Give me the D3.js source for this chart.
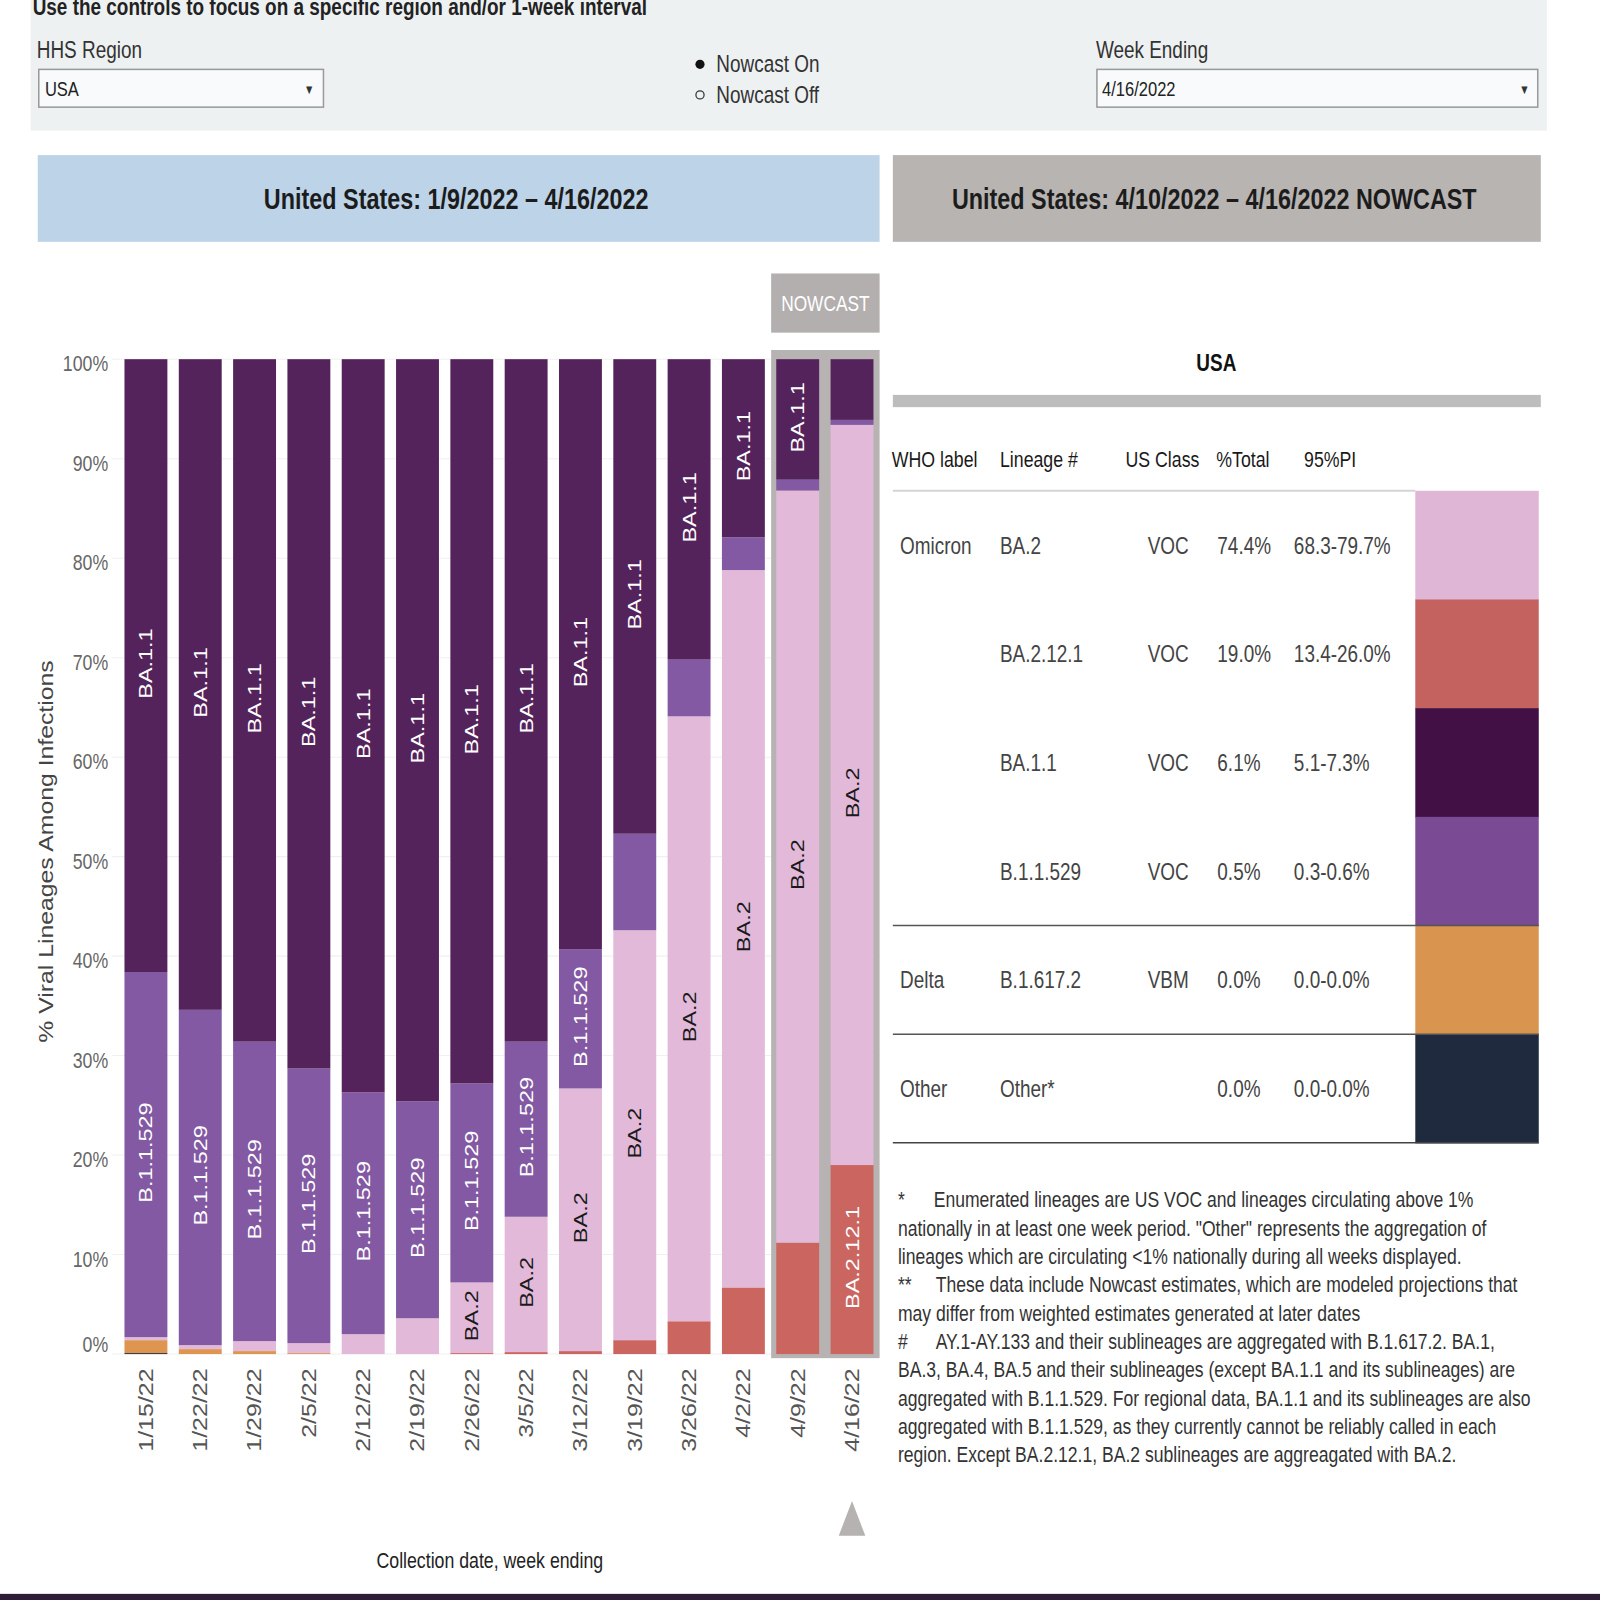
<!DOCTYPE html>
<html>
<head>
<meta charset="utf-8">
<script src="https://cdn.jsdelivr.net/npm/d3@7"></script>
<style>
  body { margin: 0; background: #fff; }
  text { font-family: "Liberation Sans", Arial, sans-serif; }
</style>
</head>
<body>
<div id="renderer"></div>
<script>
// weekly proportions (%)
const weeks = ["1/15/22", "1/22/22", "1/29/22", "2/5/22", "2/12/22", "2/19/22", "2/26/22",
               "3/5/22", "3/12/22", "3/19/22", "3/26/22", "4/2/22", "4/9/22", "4/16/22"];
const other   = [0.1, 0, 0, 0, 0, 0, 0, 0, 0, 0, 0, 0, 0, 0];
const delta   = [1.3, 0.5, 0.3, 0.1, 0, 0, 0, 0, 0, 0, 0, 0, 0, 0];
const ba2121  = [0, 0, 0, 0, 0, 0, 0.1, 0.2, 0.3, 1.4, 3.3, 6.7, 11.2, 19.0];
const ba2     = [0.3, 0.4, 1.0, 1.0, 2.0, 3.6, 7.1, 13.6, 26.4, 41.2, 60.8, 72.1, 75.6, 74.4];
const b11529  = [36.7, 33.7, 30.1, 27.6, 24.3, 21.8, 20.0, 17.6, 14.0, 9.7, 5.7, 3.3, 1.1, 0.5];
const ba11    = [61.6, 65.4, 68.6, 71.3, 73.7, 74.6, 72.8, 68.6, 59.3, 47.7, 30.2, 17.9, 12.1, 6.1];
const nowcastWeeks = ["4/9/22", "4/16/22"];
const yTicks = [0, 10, 20, 30, 40, 50, 60, 70, 80, 90, 100];

// nowcast table
const tableWho     = ["Omicron", "", "", "", "Delta", "Other"];
const tableLineage = ["BA.2", "BA.2.12.1", "BA.1.1", "B.1.1.529", "B.1.617.2", "Other*"];
const tableClass   = ["VOC", "VOC", "VOC", "VOC", "VBM", ""];
const tableTotal   = ["74.4%", "19.0%", "6.1%", "0.5%", "0.0%", "0.0%"];
const tablePI      = ["68.3-79.7%", "13.4-26.0%", "5.1-7.3%", "0.3-0.6%", "0.0-0.0%", "0.0-0.0%"];

const notes = [
  ["*", "Enumerated lineages are US VOC and lineages circulating above 1%"],
  ["", "nationally in at least one week period. \"Other\" represents the aggregation of"],
  ["", "lineages which are circulating <1% nationally during all weeks displayed."],
  ["**", "These data include Nowcast estimates, which are modeled projections that"],
  ["", "may differ from weighted estimates generated at later dates"],
  ["#", "AY.1-AY.133 and their sublineages are aggregated with B.1.617.2. BA.1,"],
  ["", "BA.3, BA.4, BA.5 and their sublineages (except BA.1.1 and its sublineages) are"],
  ["", "aggregated with B.1.1.529. For regional data, BA.1.1 and its sublineages are also"],
  ["", "aggregated with B.1.1.529, as they currently cannot be reliably called in each"],
  ["", "region. Except BA.2.12.1, BA.2 sublineages are aggreagated with BA.2."]
];

// colours
const barColor = {
  "Other": "#1f2a40", "B.1.617.2": "#dd9550", "BA.2.12.1": "#cb6560",
  "BA.2": "#e2b9d9", "B.1.1.529": "#8259a2", "BA.1.1": "#55235c"
};
const swatchColor = {
  "BA.2": "#e0b6d6", "BA.2.12.1": "#c4625f", "BA.1.1": "#421045",
  "B.1.1.529": "#7a4a95", "B.1.617.2": "#d99550", "Other*": "#1f2a3f"
};
const labelColor = { "BA.2": "#1a1a1a" }; // others are white

const width = 1600, height = 1600;
const SQ = 0.79;       // glyphs in the picture are horizontally condensed
const ZOOM = 1.0204;   // layout below is laid out on a 1568 px grid

const svg = d3.select("#renderer").append("svg")
  .attr("width", width).attr("height", height);
const root = svg.append("g").attr("transform", `scale(${ZOOM})`);

// text helper: condensed horizontally on screen, optionally rotated
function txt(parent, x, y, s, o = {}) {
  const tr = o.rot
    ? `translate(${x},${y}) rotate(${o.rot}) scale(1,${SQ})`
    : `translate(${x},${y}) scale(${SQ},1)`;
  return parent.append("text")
    .attr("transform", tr)
    .attr("font-size", (o.size || 20) + "px")
    .attr("font-weight", o.weight || "normal")
    .attr("text-anchor", o.anchor || "start")
    .attr("dy", o.dy || 0)
    .attr("fill", o.fill || "#333")
    .text(s);
}

// ---------- control panel ----------
root.append("rect").attr("x", 30).attr("y", 0).attr("width", 1486).attr("height", 128).attr("fill", "#eef1f2");
txt(root, 32, 15, "Use the controls to focus on a specific region and/or 1-week interval", { size: 23.5, weight: "bold", fill: "#222" });

txt(root, 36, 57, "HHS Region", { size: 23.5, fill: "#333" });
root.append("rect").attr("x", 38).attr("y", 68).attr("width", 279).attr("height", 37)
  .attr("fill", "#f8fafb").attr("stroke", "#9a9a9a").attr("stroke-width", 1.5);
txt(root, 44, 94, "USA", { size: 20.5, fill: "#222" });
txt(root, 303, 92, "\u25BC", { size: 13, anchor: "middle", fill: "#333" });

root.append("circle").attr("cx", 686).attr("cy", 63).attr("r", 4.5).attr("fill", "#111");
root.append("circle").attr("cx", 686).attr("cy", 93).attr("r", 4).attr("fill", "none").attr("stroke", "#333").attr("stroke-width", 1.2);
txt(root, 702, 71, "Nowcast On", { size: 23.5, fill: "#333" });
txt(root, 702, 101, "Nowcast Off", { size: 23.5, fill: "#333" });

txt(root, 1074, 57, "Week Ending", { size: 23.5, fill: "#333" });
root.append("rect").attr("x", 1075).attr("y", 68).attr("width", 432).attr("height", 37)
  .attr("fill", "#f8fafb").attr("stroke", "#9a9a9a").attr("stroke-width", 1.5);
txt(root, 1080, 94, "4/16/2022", { size: 20.5, fill: "#222" });
txt(root, 1494, 92, "\u25BC", { size: 13, anchor: "middle", fill: "#333" });

// ---------- headers ----------
root.append("rect").attr("x", 37).attr("y", 152).attr("width", 825).attr("height", 85).attr("fill", "#bcd3e8");
txt(root, 447, 195, "United States: 1/9/2022 \u2013 4/16/2022", { size: 29, weight: "bold", anchor: "middle", dy: "0.35em", fill: "#1c1c1c" });
root.append("rect").attr("x", 875).attr("y", 152).attr("width", 635).attr("height", 85).attr("fill", "#b8b4b2");
txt(root, 1190, 195, "United States: 4/10/2022 \u2013 4/16/2022 NOWCAST", { size: 29, weight: "bold", anchor: "middle", dy: "0.35em", fill: "#1c1c1c" });

// ---------- stacked bar chart ----------
const x = d3.scaleBand().domain(weeks).range([116.4, 861.6]).paddingInner(0.21).paddingOuter(0.105);
const y = d3.scaleLinear().domain([0, 100]).range([1327, 352]);

const rows = weeks.map((w, i) => ({
  week: w, "Other": other[i], "B.1.617.2": delta[i], "BA.2.12.1": ba2121[i],
  "BA.2": ba2[i], "B.1.1.529": b11529[i], "BA.1.1": ba11[i]
}));
const keys = ["Other", "B.1.617.2", "BA.2.12.1", "BA.2", "B.1.1.529", "BA.1.1"];
const series = d3.stack().keys(keys)(rows);

// faint gridlines
root.append("g").selectAll("line").data(yTicks).join("line")
  .attr("x1", 110).attr("x2", 862)
  .attr("y1", d => y(d)).attr("y2", d => y(d))
  .attr("stroke", "#f0f0f0");

// y tick labels
yTicks.forEach(t => {
  txt(root, 106, Math.min(y(t) + 4, y(0) - 10), t + "%", { size: 22, anchor: "end", dy: "0.35em", fill: "#666" });
});
txt(root, 45, (y(0) + y(100)) / 2 - 5, "% Viral Lineages Among Infections", { size: 24.3, rot: -90, anchor: "middle", dy: "0.35em", fill: "#444" });

// nowcast highlight
const nx0 = x(nowcastWeeks[0]) - 5;
const nx1 = x(nowcastWeeks[nowcastWeeks.length - 1]) + x.bandwidth() + 6;
root.append("rect").attr("x", nx0).attr("y", y(100) - 9).attr("width", nx1 - nx0).attr("height", y(0) - y(100) + 13).attr("fill", "#b7b3b2");
root.append("rect").attr("x", nx0).attr("y", 268).attr("width", nx1 - nx0).attr("height", 58).attr("fill", "#b3afae");
txt(root, (nx0 + nx1) / 2, 297, "NOWCAST", { size: 21.5, anchor: "middle", dy: "0.35em", fill: "#fff" });

const barG = root.append("g");
series.forEach(s => {
  barG.append("g").attr("fill", barColor[s.key])
    .selectAll("rect").data(s).join("rect")
    .attr("x", d => x(d.data.week))
    .attr("width", x.bandwidth())
    .attr("y", d => y(d[1]))
    .attr("height", d => y(d[0]) - y(d[1]));
});

// segment labels where they fit
const labG = root.append("g");
series.forEach(s => {
  s.forEach(d => {
    const h = y(d[0]) - y(d[1]);
    if (h < 40) return;
    const t = txt(labG, x(d.data.week) + x.bandwidth() / 2, (y(d[0]) + y(d[1])) / 2 - 2, s.key,
      { size: 23, rot: -90, anchor: "middle", dy: "0.35em", fill: labelColor[s.key] || "#fff" });
    if (t.node().getComputedTextLength() + 16 > h) t.remove();
  });
});

// x tick labels
weeks.forEach(w => {
  txt(root, x(w) + x.bandwidth() / 2, 1341, w, { size: 24.5, rot: -90, anchor: "end", dy: "0.35em", fill: "#555" });
});
txt(root, 480, 1537, "Collection date, week ending", { size: 22, anchor: "middle", fill: "#222" });

// nowcast marker
const tx = x(nowcastWeeks[nowcastWeeks.length - 1]) + x.bandwidth() / 2;
root.append("path").attr("d", `M${tx},1471L${tx + 13},1505L${tx - 13},1505Z`).attr("fill", "#b5b2b1");

// ---------- nowcast table ----------
txt(root, 1192, 364, "USA", { size: 23.5, weight: "bold", anchor: "middle", fill: "#111" });
root.append("rect").attr("x", 875).attr("y", 387).attr("width", 635).attr("height", 12).attr("fill", "#bdbdbd");

const colX = { who: 874, lin: 980, cls: 1103, tot: 1192, pi: 1278 };
txt(root, colX.who, 450, "WHO label", { size: 22, dy: "0.35em", fill: "#1a1a1a" });
txt(root, colX.lin, 450, "Lineage #", { size: 22, dy: "0.35em", fill: "#1a1a1a" });
txt(root, colX.cls, 450, "US Class", { size: 22, dy: "0.35em", fill: "#1a1a1a" });
txt(root, colX.tot, 450, "%Total", { size: 22, dy: "0.35em", fill: "#1a1a1a" });
txt(root, colX.pi, 450, "95%PI", { size: 22, dy: "0.35em", fill: "#1a1a1a" });

const ty = d3.scaleBand().domain(tableLineage).range([481, 1120]);
root.append("line").attr("x1", 875).attr("x2", 1387).attr("y1", 481).attr("y2", 481).attr("stroke", "#d4d4d4").attr("stroke-width", 2);

tableLineage.forEach((lin, i) => {
  const cy = ty(lin) + ty.bandwidth() / 2;
  root.append("rect").attr("x", 1387).attr("y", ty(lin)).attr("width", 121).attr("height", ty.bandwidth() + 0.5).attr("fill", swatchColor[lin]);
  if (tableWho[i]) txt(root, 882, cy, tableWho[i], { size: 23.5, dy: "0.35em", fill: "#444" });
  txt(root, colX.lin, cy, lin, { size: 23.5, dy: "0.35em", fill: "#444" });
  if (tableClass[i]) txt(root, 1165, cy, tableClass[i], { size: 23.5, anchor: "end", dy: "0.35em", fill: "#444" });
  txt(root, 1193, cy, tableTotal[i], { size: 23.5, dy: "0.35em", fill: "#444" });
  txt(root, 1268, cy, tablePI[i], { size: 23.5, dy: "0.35em", fill: "#444" });
});
// group separators
["B.1.617.2", "Other*"].forEach(lin => {
  root.append("line").attr("x1", 875).attr("x2", 1508).attr("y1", ty(lin)).attr("y2", ty(lin)).attr("stroke", "#555").attr("stroke-width", 1.5);
});
root.append("line").attr("x1", 875).attr("x2", 1508).attr("y1", 1120).attr("y2", 1120).attr("stroke", "#444").attr("stroke-width", 1.5);

// footnotes
notes.forEach((n, i) => {
  const ly = 1183 + i * 27.8;
  if (n[0]) {
    txt(root, 880, ly, n[0], { size: 21.8, fill: "#333" });
    txt(root, n[0] === "*" ? 915 : 917, ly, n[1], { size: 21.8, fill: "#333" });
  } else {
    txt(root, 880, ly, n[1], { size: 21.8, fill: "#333" });
  }
});

// bottom band
root.append("rect").attr("x", 0).attr("y", 1562).attr("width", width / ZOOM).attr("height", 40).attr("fill", "#2e1b35");
</script>
</body>
</html>
